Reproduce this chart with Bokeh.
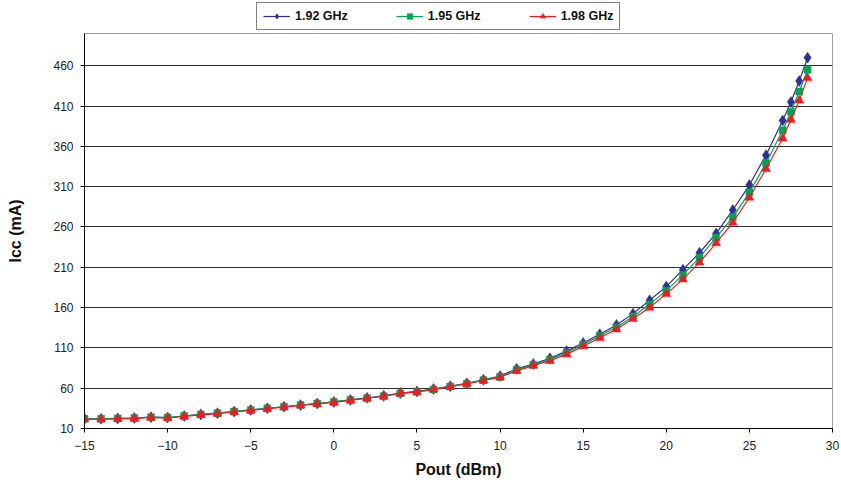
from bokeh.plotting import figure
from bokeh.layouts import column
from bokeh.models import Range1d, FixedTicker, Legend, LegendItem
from bokeh.embed import file_html
from bokeh.resources import INLINE

# ---- data ----
pout = list(range(-15, 28)) + [27.5, 28, 28.5]
icc_192 = [22, 22, 22.5, 23, 24, 23.5, 25.5, 27.5, 29, 31, 33, 35, 37, 39, 41, 43,
           45.5, 48, 50.5, 54, 56, 59, 62.5, 66, 70.5, 75,
           84, 90, 97, 106, 116, 127, 138.5, 152.5, 169, 186, 207, 228, 252, 281,
           312, 349, 392, 415, 441, 470]
icc_195 = [22, 22, 22.5, 23, 24, 23.5, 25.5, 27.5, 29, 31, 33, 35, 37, 39, 41, 43,
           45.5, 47.5, 50, 53.5, 55.5, 58.5, 62, 65.5, 70, 74,
           83, 89, 95.5, 104, 114, 125, 135.5, 149, 164, 181, 200.5, 222, 247, 272,
           303, 339, 380, 403, 428, 455]
icc_198 = [21.5, 21.5, 22, 22.5, 23.5, 23, 25, 27, 28.5, 30.5, 32.5, 34.5, 36.5, 38.5, 40.5, 42.5,
           45, 47.5, 50, 53.5, 55.5, 58.5, 62, 65.5, 69.5, 73.5,
           81.5, 88, 94, 102, 112, 122.5, 133, 146, 160, 177, 195, 216, 240, 265.5,
           296.5, 332, 370, 393, 417, 445]
series_names = ["1.92 GHz", "1.95 GHz", "1.98 GHz"]
x_ticks = [-15, -10, -5, 0, 5, 10, 15, 20, 25, 30]
y_ticks = [10, 60, 110, 160, 210, 260, 310, 360, 410, 460]

FONT = "Liberation Sans"
colors = ["#2E3192", "#00A651", "#ED1C24"]
markers = ["diamond", "square", "triangle"]
sizes = [11, 7, 9]
series = [icc_192, icc_195, icc_198]

# ---- main chart ----
p = figure(width=841, height=451, output_backend="svg", toolbar_location=None,
           x_range=Range1d(-15, 30), y_range=Range1d(10, 500),
           min_border_left=84, min_border_right=9, min_border_top=0, min_border_bottom=56)
p.background_fill_color = "white"
p.border_fill_color = "white"
p.outline_line_color = "#a0a0a0"
p.outline_line_width = 1

p.xgrid.visible = False
p.ygrid.ticker = FixedTicker(ticks=y_ticks)
p.ygrid.grid_line_color = "#303030"
p.ygrid.grid_line_width = 1

for ax in (p.xaxis[0], p.yaxis[0]):
    ax.axis_line_color = "black"
    ax.major_tick_line_color = "black"
    ax.major_tick_out = 4
    ax.major_tick_in = 0
    ax.minor_tick_line_color = None
    ax.major_label_text_font = FONT
    ax.major_label_text_font_size = "12px"
    ax.major_label_text_color = "#222222"
    ax.axis_label_text_font = FONT
    ax.axis_label_text_font_size = "16px"
    ax.axis_label_text_font_style = "bold"
    ax.axis_label_text_color = "#111111"

p.xaxis.ticker = FixedTicker(ticks=x_ticks)
p.yaxis.ticker = FixedTicker(ticks=y_ticks)
p.xaxis.axis_label = "Pout (dBm)"
p.yaxis.axis_label = "Icc (mA)"
p.xaxis.major_label_standoff = 8
p.yaxis.major_label_standoff = 7
p.xaxis.axis_label_standoff = 8
p.yaxis.axis_label_standoff = 26

for ys, c, m, s in zip(series, colors, markers, sizes):
    p.line(pout, ys, line_color=c, line_width=1.2)
    p.scatter(pout, ys, marker=m, size=s, fill_color=c, line_color=c, line_width=0.5)

# ---- legend strip above the chart (its ranges keep the series out of view) ----
top = figure(width=841, height=33, output_backend="svg", toolbar_location=None,
             x_range=Range1d(1000, 2000), y_range=Range1d(1000, 2000),
             x_axis_type=None, y_axis_type=None,
             min_border_left=0, min_border_right=0, min_border_top=0, min_border_bottom=0)
top.outline_line_color = None
top.xgrid.visible = False
top.ygrid.visible = False
top.background_fill_color = "white"
top.border_fill_color = "white"

items = []
for ys, c, m, s, name in zip(series, colors, markers, sizes, series_names):
    r1 = top.line(pout, ys, line_color=c, line_width=1.2)
    r2 = top.scatter(pout, ys, marker=m, size=s, fill_color=c, line_color=c, line_width=0.5)
    items.append(LegendItem(label=name, renderers=[r1, r2]))

legend = Legend(items=items, location=(172, 3), orientation="horizontal",
                padding=6, spacing=48, margin=0,
                glyph_width=27, glyph_height=14, label_standoff=5,
                label_text_font=FONT, label_text_font_size="12.5px",
                label_text_font_style="bold", label_text_color="#111111",
                border_line_color="black", border_line_width=1,
                background_fill_color="white", background_fill_alpha=1)
top.add_layout(legend, "center")

layout = column(top, p, spacing=0)
open("out.html", "w").write(file_html(layout, INLINE))
